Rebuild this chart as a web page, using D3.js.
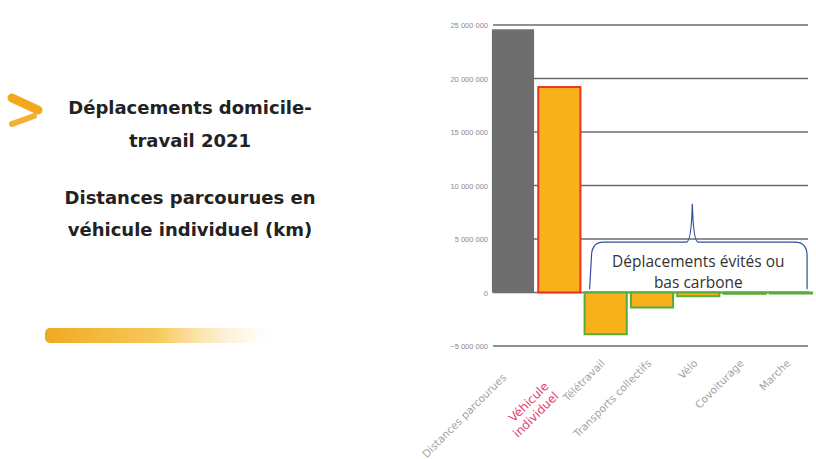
<!DOCTYPE html>
<html><head><meta charset="utf-8">
<script src="https://cdn.jsdelivr.net/npm/d3@7"></script>
<style>
body{margin:0;background:#fff;}
svg{display:block;}
</style></head>
<body><svg id="c" width="816" height="459"></svg>
<script>
const categories = ["Distances parcourues","Véhicule individuel","Télétravail","Transports collectifs","Vélo","Covoiturage","Marche"];
const values = [24600000, 19200000, -3900000, -1400000, -350000, -120000, -80000];
const yTicks = [-5000000, 0, 5000000, 10000000, 15000000, 20000000, 25000000];
const titleLines = ["Déplacements domicile-","travail 2021"];
const subtitleLines = ["Distances parcourues en","véhicule individuel (km)"];
const braceLines = ["Déplacements évités ou","bas carbone"];

const svg = d3.select("#c");
const defs = svg.append("defs");
const grad = defs.append("linearGradient").attr("id","g1");
grad.append("stop").attr("offset","0%").attr("stop-color","#f0a820");
grad.append("stop").attr("offset","50%").attr("stop-color","#f6be3e").attr("stop-opacity",0.85);
grad.append("stop").attr("offset","100%").attr("stop-color","#fbe3a8").attr("stop-opacity",0);

// left panel
svg.append("line").attr("x1",12).attr("y1",98).attr("x2",38).attr("y2",110)
  .attr("stroke","#f2a81d").attr("stroke-width",9).attr("stroke-linecap","round");
svg.append("line").attr("x1",12).attr("y1",124).attr("x2",34).attr("y2",116)
  .attr("stroke","#f2a81d").attr("stroke-width",6).attr("stroke-linecap","round").attr("opacity",0.9);
const tf = "'DejaVu Sans', Verdana, sans-serif";
svg.append("g").selectAll("text").data(titleLines).join("text")
  .attr("x",190).attr("y",(d,i)=>114+i*33).attr("text-anchor","middle")
  .attr("font-family",tf).attr("font-weight","bold").attr("font-size",18).attr("fill","#222").text(d=>d);
svg.append("g").selectAll("text").data(subtitleLines).join("text")
  .attr("x",190).attr("y",(d,i)=>204+i*32).attr("text-anchor","middle")
  .attr("font-family",tf).attr("font-weight","bold").attr("font-size",18).attr("fill","#222").text(d=>d);
svg.append("rect").attr("x",45).attr("y",328).attr("width",225).attr("height",15).attr("rx",5).attr("fill","url(#g1)");

// chart
const x = d3.scaleBand().domain(categories).range([491, 813]).paddingInner(0.09).paddingOuter(0.02);
const y = d3.scaleLinear().domain([-5000000, 25000000]).range([346, 25]);
const fmt = v => d3.format(",")(v).replace(/,/g," ");

const grid = svg.append("g");
grid.selectAll("line").data(yTicks).join("line")
  .attr("x1",493).attr("x2",808).attr("y1",d=>y(d)).attr("y2",d=>y(d))
  .attr("stroke","#6b6b6b").attr("stroke-width",1.5);
grid.selectAll("text").data(yTicks).join("text")
  .attr("x",488).attr("y",d=>y(d)+3).attr("text-anchor","end")
  .attr("font-family","'Liberation Sans', Arial, sans-serif").attr("font-size",7.5).attr("fill","#8a8a8a")
  .text(d=>fmt(d));

// zero green line for low-carbon section
svg.append("line").attr("x1",x(categories[2])).attr("x2",810).attr("y1",y(0)).attr("y2",y(0))
  .attr("stroke","#4aae4f").attr("stroke-width",2);

const fills = ["#6e6e6e","#f7b21b","#f7b21b","#f7b21b","#f7b21b","#f7b21b","#f7b21b"];
const strokes = ["none","#e8351f","#5aab3c","#5aab3c","#5aab3c","#5aab3c","#5aab3c"];
svg.append("g").selectAll("rect").data(values).join("rect")
  .attr("x",(d,i)=>x(categories[i])).attr("width",x.bandwidth())
  .attr("y",d=>y(Math.max(0,d))).attr("height",d=>Math.max(1,Math.abs(y(d)-y(0))))
  .attr("fill",(d,i)=>fills[i]).attr("stroke",(d,i)=>strokes[i]).attr("stroke-width",2);

// x labels
const xl = svg.append("g");
const lf = "'DejaVu Sans', Verdana, sans-serif";
categories.forEach((c,i)=>{
  const t = xl.append("text").attr("text-anchor","end").attr("font-family",lf);
  if(i===1){
    const cx = x(c)+x.bandwidth()/2-5, cy = 392;
    t.attr("transform",`translate(${cx},${cy}) rotate(-45)`);
    t.attr("font-size",12).attr("fill","#e43a72");
    t.append("tspan").attr("x",0).attr("dy",-7).text("Véhicule");
    t.append("tspan").attr("x",0).attr("dy",14).text("individuel");
  } else {
    const cx = x(c)+x.bandwidth()/2 + (i===0 ? -6 : 0), cy = i===0 ? 378 : 364;
    t.attr("transform",`translate(${cx},${cy}) rotate(-45)`);
    t.attr("font-size",10.5).attr("fill","#a3a3a3").text(c);
  }
});

// brace annotation
const bx0 = x(categories[2])+5, bx1 = x(categories[6])+x.bandwidth()-5;
const bm = (x(categories[4])+x.bandwidth()/2) - 6;
const by = y(4700000), peak = y(8300000), bot = y(300000);
const p = d3.path();
p.moveTo(bx0, bot);
p.lineTo(bx0+2, by+12);
p.quadraticCurveTo(bx0+3, by, bx0+14, by);
p.lineTo(bm-6, by);
p.quadraticCurveTo(bm-1, by, bm, peak);
p.quadraticCurveTo(bm+1, by, bm+6, by);
p.lineTo(bx1-12, by);
p.quadraticCurveTo(bx1-1, by, bx1, by+12);
p.lineTo(bx1, bot);
svg.append("rect").attr("x",bx0+1).attr("y",by+2).attr("width",bx1-bx0-2).attr("height",bot-by-3).attr("fill","#fff");
svg.append("path").attr("d",p.toString()).attr("fill","none").attr("stroke","#2f4f9a").attr("stroke-width",1.2);
svg.append("g").selectAll("text").data(braceLines).join("text")
  .attr("x",(bx0+bx1)/2).attr("y",(d,i)=>y(2400000)+i*21).attr("text-anchor","middle")
  .attr("font-family","'Open Sans', sans-serif").attr("font-size",15.5).attr("fill","#333").text(d=>d);
</script></body></html>
